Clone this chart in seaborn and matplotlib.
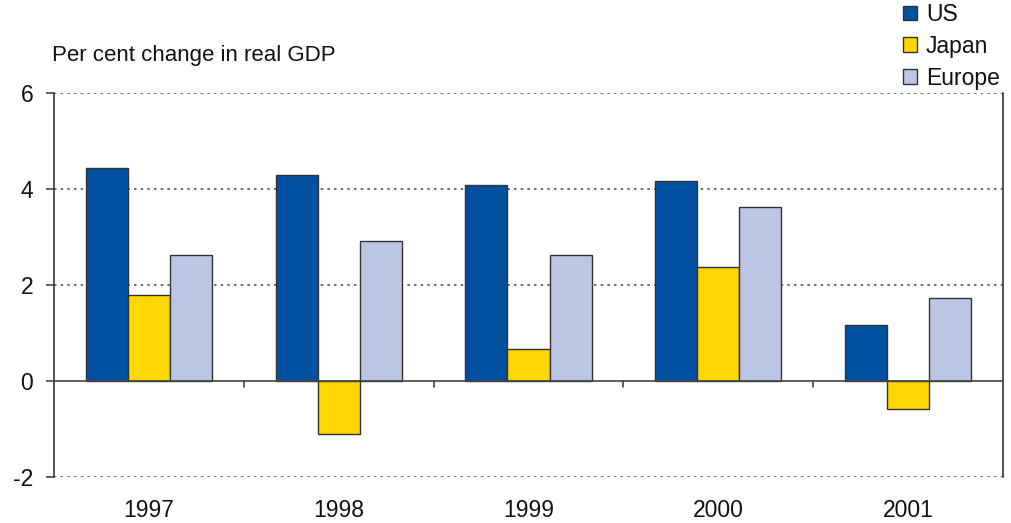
import matplotlib.pyplot as plt
import seaborn as sns
import pandas as pd

# 数据
years = ['1997', '1998', '1999', '2000', '2001']
us = [4.43, 4.29, 4.09, 4.16, 1.17]
japan = [1.79, -1.10, 0.66, 2.37, -0.58]
europe = [2.62, 2.91, 2.62, 3.62, 1.72]

df = pd.DataFrame({'Year': years, 'US': us, 'Japan': japan, 'Europe': europe})
df_melted = pd.melt(df, id_vars='Year', var_name='Region', value_name='Growth')

palette = {'US': '#0050A2', 'Japan': '#FFD700', 'Europe': '#BCC5E3'}

sns.set_style('white')
plt.rcParams['font.family'] = ['Liberation Sans', 'DejaVu Sans']

fig = plt.figure(figsize=(10.12, 5.23), dpi=100)
ax = fig.add_axes([0.0534, 0.088, 0.9377, 0.7342])

sns.barplot(x='Year', y='Growth', hue='Region', data=df_melted, palette=palette,
            width=0.665, edgecolor='#333333', linewidth=1.0, saturation=1, ax=ax, legend=True)

ax.set_ylim(-2, 6)
ax.set_xlim(-0.5, len(years) - 0.5)
ax.set_yticks([-2, 0, 2, 4, 6])
ax.set_yticklabels(['-2', '0', '2', '4', '6'])

# 网格线（虚线）
for y in [-2, 2, 4, 6]:
    ax.axhline(y, color='#555555', linestyle=(0, (1.5, 2.5)), linewidth=1.2, zorder=0)
ax.axhline(0, color='#444444', linewidth=1.2, zorder=3)

# 零线上的分隔刻度
for i in range(len(years) - 1):
    ax.plot([i + 0.5, i + 0.5], [0, -0.12], color='#444444', linewidth=1.2, zorder=3)

for side in ['top', 'bottom']:
    ax.spines[side].set_visible(False)
for side in ['left', 'right']:
    ax.spines[side].set_color('#333333')
    ax.spines[side].set_linewidth(1.2)

ax.tick_params(axis='y', which='major', left=True, length=6, width=1.2, color='#444444',
               direction='out', labelsize=16.5, pad=9, labelcolor='#111111')
ax.tick_params(axis='x', bottom=False, labelsize=16.5, pad=12.5, labelcolor='#111111')
ax.set_xlabel('')
ax.set_ylabel('')

fig.text(0.0514, 0.894, 'Per cent change in real GDP', fontsize=16, color='#111111', va='center')

ax.legend(title=None, loc='upper left', bbox_to_anchor=(0.892, 0.994),
          bbox_transform=fig.transFigure, frameon=False, fontsize=16.5,
          handlelength=0.61, handleheight=0.61, handletextpad=0.4, labelspacing=0.38,
          borderaxespad=0, borderpad=0)
for t in ax.get_legend().get_texts():
    t.set_color('#111111')

plt.savefig('out.png', dpi=100)
